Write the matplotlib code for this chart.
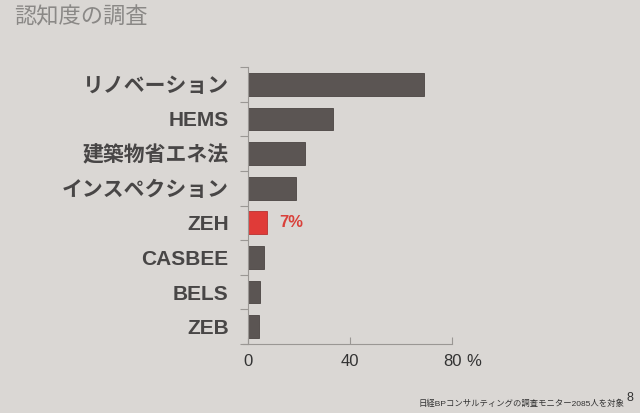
"""認知度の調査 - horizontal bar chart recreated from a slide photo."""
import matplotlib.pyplot as plt
from matplotlib.ticker import FixedLocator

plt.rcParams['font.family'] = ['Liberation Sans', 'Noto Sans CJK JP', 'DejaVu Sans']

labels = ["リノベーション", "HEMS", "建築物省エネ法", "インスペクション",
          "ZEH", "CASBEE", "BELS", "ZEB"]
values = [69, 33.3, 22.3, 18.7, 7.3, 6.3, 4.7, 4.3]
highlight = "ZEH"
highlight_text = "7%"
xticks = [0, 40, 80]

bg = "#dad7d4"
fig = plt.figure(figsize=(6.4, 4.13), dpi=100, facecolor=bg)
ax = fig.add_axes([243 / 640, 69 / 413, 209 / 640, 277 / 413])
ax.set_facecolor(bg)

ypos = list(range(len(labels)))
colors = ["#e03b38" if l == highlight else "#5b5553" for l in labels]
edges = ["#b83030" if l == highlight else "#4a4442" for l in labels]
ax.barh(ypos, values, height=0.66, color=colors, edgecolor=edges, linewidth=0.6)

ax.set_xlim(-2, 80)
ax.set_ylim(len(labels) - 0.5, -0.5)

for s in ["top", "right"]:
    ax.spines[s].set_visible(False)
ax.spines["left"].set_position(("data", 0))
for s in ["left", "bottom"]:
    ax.spines[s].set_color("#9a9794")
    ax.spines[s].set_linewidth(0.8)

# y: ticks between the bars, labels at bar centres
ax.yaxis.set_major_locator(FixedLocator(ypos))
ax.set_yticklabels(labels)
ax.yaxis.set_minor_locator(FixedLocator([i - 0.5 for i in range(len(labels) + 1)]))
ax.tick_params(axis="y", which="major", length=0, pad=14, labelsize=15,
               labelcolor="#484646")
ax.tick_params(axis="y", which="minor", length=6, direction="out",
               color="#9a9794", width=0.8)
for t in ax.get_yticklabels():
    t.set_fontweight("bold")

ax.set_xticks(xticks)
ax.set_xticklabels([str(v) for v in xticks])
ax.tick_params(axis="x", length=5, direction="in", color="#9a9794", width=0.8,
               labelsize=12, labelcolor="#333333", pad=7)
ax.annotate("%", xy=(80, len(labels) - 0.5), xycoords="data",
            xytext=(10, -7), textcoords="offset points", ha="left", va="top",
            fontsize=12, color="#333333")

hi = labels.index(highlight)
ax.text(values[hi] + 5, hi, highlight_text, va="center", ha="left",
        fontsize=12, color="#d9403a", fontweight="bold")

fig.text(14 / 640, 1 - 18 / 413, "認知度の調査", ha="left", va="center",
         fontsize=16, color="#8a8886")
fig.text(419 / 640, 1 - 404 / 413, "日経BPコンサルティングの調査モニター2085人を対象",
         ha="left", va="center", fontsize=6, color="#333333")
fig.text(630 / 640, 1 - 398 / 413, "8", ha="center", va="center",
         fontsize=9, color="#333333")

fig.savefig("out.png", dpi=100, facecolor=bg)
